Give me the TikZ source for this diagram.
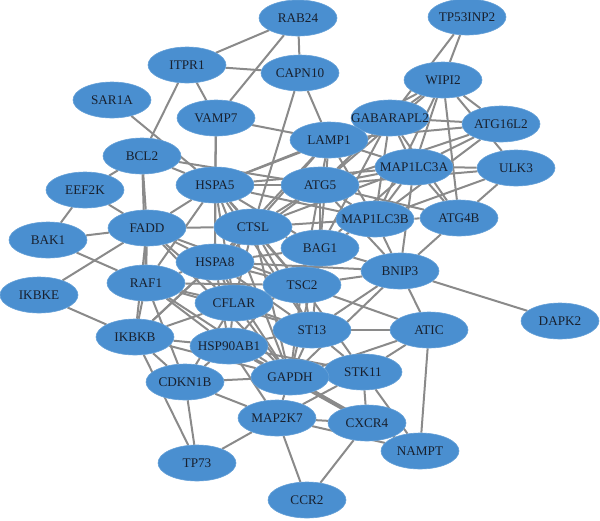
\documentclass[tikz,border=0pt]{standalone}
\usepackage{fontspec}
\setmainfont{Liberation Serif}
\usetikzlibrary{shapes.geometric, backgrounds}
\definecolor{node-blue}{HTML}{4A8FD0}
\definecolor{edge-grey}{HTML}{8A8A8A}
\definecolor{label-dark}{HTML}{18202E}
\newcommand{\gn}[1]{\makebox[0pt]{#1}}
\tikzset{
  prot/.style={ellipse, fill=node-blue, draw=node-blue!85!white, line width=0.6pt,
    minimum width=78pt, minimum height=36pt, inner sep=0pt,
    text=label-dark, font=\fontsize{13.2}{14}\selectfont},
  link/.style={draw=edge-grey, line width=2pt}
}

\begin{document}
\begin{tikzpicture}[x=1pt, y=-1pt]
    \useasboundingbox (0,0) rectangle (600,520);
    % proteins, placed at their pixel positions
    \node[prot] (rab)   at (298,18)  {\gn{RAB24}};
    \node[prot] (tp53)  at (467,17)  {\gn{TP53INP2}};
    \node[prot] (itpr)  at (187,65)  {\gn{ITPR1}};
    \node[prot] (capn)  at (300,73)  {\gn{CAPN10}};
    \node[prot] (wipi)  at (443,80)  {\gn{WIPI2}};
    \node[prot] (sar)   at (112,100) {\gn{SAR1A}};
    \node[prot] (vamp)  at (216,118) {\gn{VAMP7}};
    \node[prot] (gab)   at (390,118) {\gn{GABARAPL2}};
    \node[prot] (atg16) at (501,124) {\gn{ATG16L2}};
    \node[prot] (lamp)  at (329,140) {\gn{LAMP1}};
    \node[prot] (bcl)   at (142,156) {\gn{BCL2}};
    \node[prot] (hspa5) at (215,185) {\gn{HSPA5}};
    \node[prot] (lc3a)  at (414,167) {\gn{MAP1LC3A}};
    \node[prot] (ulk)   at (516,168) {\gn{ULK3}};
    \node[prot] (atg5)  at (320,185) {\gn{ATG5}};
    \node[prot] (eef)   at (85,190)  {\gn{EEF2K}};
    \node[prot] (fadd)  at (147,228) {\gn{FADD}};
    \node[prot] (ctsl)  at (253,227) {\gn{CTSL}};
    \node[prot] (lc3b)  at (375,219) {\gn{MAP1LC3B}};
    \node[prot] (atg4b) at (459,218) {\gn{ATG4B}};
    \node[prot] (bak)   at (48,240)  {\gn{BAK1}};
    \node[prot] (bag)   at (320,248) {\gn{BAG1}};
    \node[prot] (hspa8) at (215,262) {\gn{HSPA8}};
    \node[prot] (bnip)  at (400,271) {\gn{BNIP3}};
    \node[prot] (raf)   at (146,283) {\gn{RAF1}};
    \node[prot] (tsc)   at (302,285) {\gn{TSC2}};
    \node[prot] (ikbke) at (39,295)  {\gn{IKBKE}};
    \node[prot] (cflar) at (234,303) {\gn{CFLAR}};
    \node[prot] (dapk)  at (560,321) {\gn{DAPK2}};
    \node[prot] (st13)  at (312,330) {\gn{ST13}};
    \node[prot] (atic)  at (429,330) {\gn{ATIC}};
    \node[prot] (ikbkb) at (135,337) {\gn{IKBKB}};
    \node[prot] (hsp90) at (229,346) {\gn{HSP90AB1}};
    \node[prot] (stk)   at (363,372) {\gn{STK11}};
    \node[prot] (gapdh) at (290,377) {\gn{GAPDH}};
    \node[prot] (cdkn)  at (185,382) {\gn{CDKN1B}};
    \node[prot] (map2k7) at (277,418) {\gn{MAP2K7}};
    \node[prot] (cxcr)  at (367,423) {\gn{CXCR4}};
    \node[prot] (nampt) at (420,451) {\gn{NAMPT}};
    \node[prot] (tp73)  at (197,463) {\gn{TP73}};
    \node[prot] (ccr)   at (307,500) {\gn{CCR2}};

    % interactions, behind the proteins
    \begin{scope}[on background layer]
    \foreach \a/\b in {rab/itpr, rab/vamp, rab/capn, itpr/capn, itpr/bcl, itpr/vamp,
        capn/ctsl, capn/lamp, sar/hspa5, vamp/hspa5, vamp/hspa8, vamp/lamp,
        bcl/hspa5, bcl/atg5, bcl/eef, bcl/fadd, bcl/raf, eef/fadd, eef/bak,
        bak/fadd, bak/raf, ikbke/fadd, ikbke/ikbkb,
        tp53/wipi, tp53/gab, wipi/gab, wipi/lamp, wipi/lc3a, wipi/lc3b,
        wipi/atg16, wipi/ulk, wipi/atg4b, wipi/atg5,
        atg16/gab, atg16/lc3a, atg16/lc3b, atg16/atg5, atg16/lamp,
        ulk/lc3a, ulk/atg4b, ulk/lc3b, ulk/atg5,
        atg4b/lc3b, atg4b/lc3a, atg4b/bnip, atg4b/gab, atg4b/atg5,
        gab/lamp, gab/lc3a, gab/lc3b, gab/atg5, gab/hspa5, gab/bag,
        lc3a/atg5, lc3a/lc3b, lc3a/lamp, lc3a/bag, lc3a/bnip, lc3a/ctsl,
        lc3b/atg5, lc3b/bnip, lc3b/bag, lc3b/lamp, lc3b/ctsl, lc3b/hspa5,
        bnip/dapk, bnip/atic, bnip/st13, bnip/gapdh, bnip/bag, bnip/tsc,
        bnip/atg5, bnip/hspa8,
        atic/nampt, atic/stk, atic/gapdh, atic/tsc, atic/st13,
        stk/nampt, stk/gapdh, stk/st13, stk/tsc, stk/map2k7, stk/cxcr, stk/hsp90,
        cxcr/map2k7, cxcr/nampt, cxcr/ccr, cxcr/gapdh, cxcr/hsp90,
        nampt/map2k7, nampt/gapdh, ccr/map2k7,
        tp73/cdkn, tp73/ikbkb, tp73/map2k7,
        cdkn/gapdh, cdkn/map2k7, cdkn/ikbkb, cdkn/hsp90, cdkn/raf, cdkn/cflar,
        ikbkb/raf, ikbkb/hsp90, ikbkb/cflar, ikbkb/gapdh, ikbkb/hspa8,
        ikbkb/fadd, ikbkb/ctsl,
        raf/fadd, raf/hspa8, raf/cflar, raf/hsp90, raf/gapdh, raf/tsc,
        raf/hspa5, raf/st13,
        fadd/hspa5, fadd/ctsl, fadd/cflar, fadd/hspa8, fadd/gapdh, fadd/tsc,
        hspa5/ctsl, hspa5/atg5, hspa5/lamp, hspa5/hspa8, hspa5/bag,
        hspa5/gapdh, hspa5/lc3a, hspa5/tsc, hspa5/cflar, hspa5/st13,
        atg5/lamp, atg5/ctsl, atg5/bag, atg5/hspa8, atg5/tsc,
        lamp/ctsl, lamp/bag, lamp/hspa8,
        ctsl/bag, ctsl/hspa8, ctsl/tsc, ctsl/gapdh, ctsl/st13, ctsl/cflar,
        bag/hspa8, bag/tsc, bag/gapdh, bag/st13, bag/hsp90,
        hspa8/cflar, hspa8/tsc, hspa8/hsp90, hspa8/gapdh, hspa8/st13,
        tsc/cflar, tsc/st13, tsc/gapdh, cflar/hsp90, cflar/gapdh, cflar/st13,
        st13/gapdh, st13/hsp90, hsp90/gapdh, hsp90/map2k7, gapdh/map2k7}
      \draw[link] (\a) -- (\b);
    \end{scope}
\end{tikzpicture}
\end{document}
